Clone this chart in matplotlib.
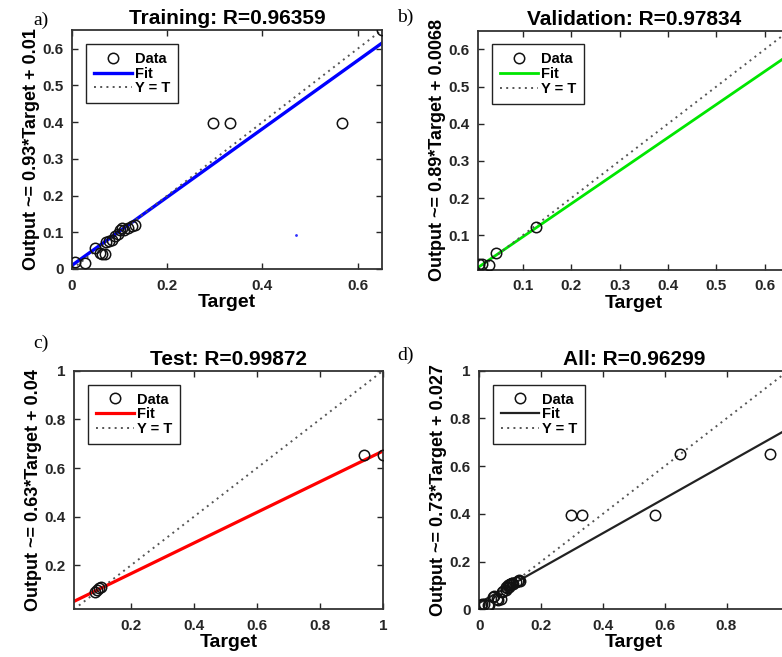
import matplotlib
matplotlib.use("Agg")
import matplotlib.pyplot as plt
import numpy as np

plt.rcParams['font.family'] = ['Liberation Sans', 'DejaVu Sans']

# Training data
train_t = [0.006, 0.027, 0.048, 0.058, 0.062, 0.070, 0.072, 0.078, 0.085, 0.090, 0.097,
           0.100, 0.105, 0.110, 0.118, 0.125, 0.132, 0.297, 0.332, 0.567, 0.651]
train_o = [0.020, 0.017, 0.056, 0.043, 0.040, 0.042, 0.074, 0.076, 0.080, 0.090, 0.095,
           0.105, 0.112, 0.106, 0.113, 0.118, 0.120, 0.397, 0.397, 0.397, 0.651]
stray_t = [0.470]
stray_o = [0.093]

# Validation data
val_t = [0.009, 0.016, 0.031, 0.045, 0.128]
val_o = [0.022, 0.022, 0.020, 0.052, 0.121]

# Test data
test_t = [0.088, 0.092, 0.098, 0.105, 0.940, 1.000]
test_o = [0.092, 0.100, 0.106, 0.112, 0.652, 0.652]

# All data
all_t = train_t + val_t + test_t
all_o = train_o + val_o + test_o

titles = ["Training: R=0.96359", "Validation: R=0.97834", "Test: R=0.99872", "All: R=0.96299"]
ylabels = ["Output ~= 0.93*Target + 0.01", "Output ~= 0.89*Target + 0.0068",
           "Output ~= 0.63*Target + 0.04", "Output ~= 0.73*Target + 0.027"]
slopes = [0.93, 0.89, 0.63, 0.73]
intercepts = [0.01, 0.0068, 0.04, 0.027]
fit_colors = ["#0000ff", "#00e600", "#ff0000", "#222222"]
fit_widths = [2.4, 2.0, 2.3, 1.6]
limits = [(0, 0.651), (0.008, 0.651), (0.02, 1.0), (0, 1.0)]
xticks = [[0, 0.2, 0.4, 0.6], [0.1, 0.2, 0.3, 0.4, 0.5, 0.6],
          [0.2, 0.4, 0.6, 0.8, 1], [0, 0.2, 0.4, 0.6, 0.8, 1]]
xticklabels = [["0", "0.2", "0.4", "0.6"], ["0.1", "0.2", "0.3", "0.4", "0.5", "0.6"],
               ["0.2", "0.4", "0.6", "0.8", "1"], ["0", "0.2", "0.4", "0.6", "0.8", ""]]
yticks = [[0, 0.1, 0.2, 0.3, 0.4, 0.5, 0.6], [0.1, 0.2, 0.3, 0.4, 0.5, 0.6],
          [0.2, 0.4, 0.6, 0.8, 1], [0, 0.2, 0.4, 0.6, 0.8, 1]]
letters = ["a)", "b)", "c)", "d)"]
datasets = [(train_t, train_o), (val_t, val_o), (test_t, test_o), (all_t, all_o)]

W, H = 782, 657
fig = plt.figure(figsize=(W / 100, H / 100), dpi=100)

# axes boxes in pixels: left, top, width, height
boxes = [(72, 30, 310, 239), (478.3, 30.5, 311, 239),
         (74, 370.7, 309, 238.6), (479.3, 370.7, 309, 238.6)]
letter_pos = [(33, 20), (397, 17), (33, 343), (397, 355)]

for i in range(4):
    l, t, w, h = boxes[i]
    ax = fig.add_axes([l / W, 1 - (t + h) / H, w / W, h / H])
    lo, hi = limits[i]
    xs = np.array([lo, hi])
    tt, oo = datasets[i]
    ax.plot(tt, oo, 'o', mfc='none', mec='#111111', ms=7.5, mew=1.1, label='Data', zorder=3)
    ax.plot(xs, slopes[i] * xs + intercepts[i], '-', color=fit_colors[i], lw=fit_widths[i], label='Fit')
    ax.plot(xs, xs, linestyle=(0, (1, 2.2)), color='#555555', lw=1.4, label='Y = T')
    if i == 0:
        ax.plot(stray_t, stray_o, '.', color='#3030ff', ms=2)
    ax.set_xlim(lo, hi)
    ax.set_ylim(lo, hi)
    ax.set_xticks(xticks[i])
    ax.set_yticks(yticks[i])
    ax.set_xticklabels(xticklabels[i])
    ax.set_yticklabels([f"{v:g}" for v in yticks[i]])
    ax.tick_params(direction='in', top=True, right=True, length=4, width=1,
                   labelsize=11, colors='#262626')
    ax.tick_params(axis='x', pad=7)
    ax.tick_params(axis='y', pad=6)
    for lab in ax.get_xticklabels() + ax.get_yticklabels():
        lab.set_fontweight('bold')
    for sp in ax.spines.values():
        sp.set_linewidth(1.3)
        sp.set_color('#333333')
    ax.set_title(titles[i], fontsize=15, fontweight='bold', pad=4)
    ax.set_xlabel("Target", fontsize=14, fontweight='bold', labelpad=1)
    ax.set_ylabel(ylabels[i], fontsize=13, fontweight='bold', labelpad=2)
    leg = ax.legend(loc='upper left', fontsize=10.5, fancybox=False, framealpha=1,
                    edgecolor='#222222', borderaxespad=0.95, handlelength=2.6,
                    handletextpad=0.2, labelspacing=0.05, borderpad=0.55)
    leg.get_frame().set_linewidth(1.0)
    for txt in leg.get_texts():
        txt.set_fontweight('bold')
    lx, ly = letter_pos[i]
    fig.text(lx / W, 1 - ly / H, letters[i], family='Liberation Serif',
             fontsize=14, va='center', ha='left')

fig.savefig("out.png", dpi=100)
